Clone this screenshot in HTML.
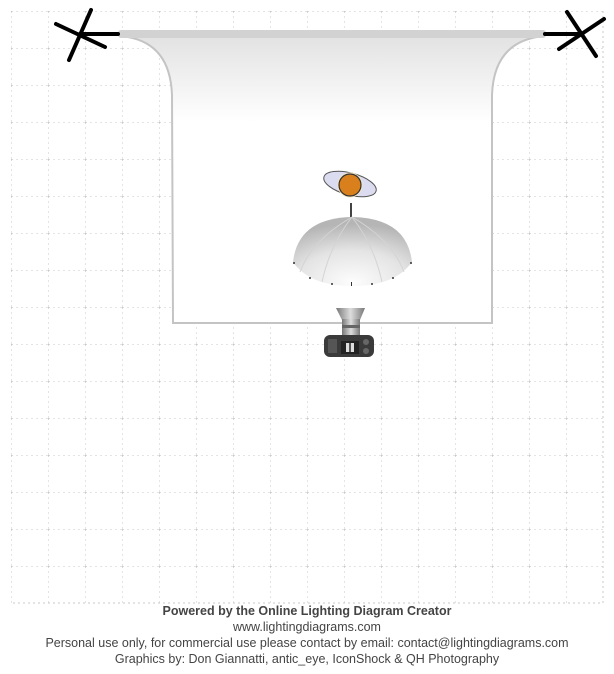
<!DOCTYPE html>
<html><head><meta charset="utf-8"><style>
html,body{margin:0;padding:0;background:#fff;}
body{width:614px;height:674px;overflow:hidden;position:relative;font-family:"Liberation Sans",Arial,sans-serif;}
.t{position:absolute;left:0;width:614px;text-align:center;font-size:12.5px;color:#444;line-height:16px;}
</style></head><body>
<svg width="614" height="674" style="position:absolute;left:0;top:0">
<defs>
<pattern id="g" x="11" y="11" width="37" height="37" patternUnits="userSpaceOnUse">
<path d="M0 0H37M0 0V37" stroke="#c8c8c8" stroke-width="1" stroke-dasharray="2,3" fill="none"/>
<path d="M-2 0H2M0 -2V2" stroke="#b5b5b5" stroke-width="1"/>
</pattern>
<linearGradient id="bd" x1="0" y1="0" x2="0" y2="1">
<stop offset="0" stop-color="#e2e2e2"/><stop offset="0.3" stop-color="#ffffff"/><stop offset="1" stop-color="#fff"/>
</linearGradient>
<radialGradient id="um" cx="0.5" cy="0.95" r="0.85">
<stop offset="0" stop-color="#fdfdfd"/><stop offset="0.55" stop-color="#e4e4e4"/><stop offset="1" stop-color="#b5b5b5"/>
</radialGradient>
<linearGradient id="ln" x1="0" x2="1"><stop offset="0" stop-color="#777"/><stop offset="0.5" stop-color="#ddd"/><stop offset="1" stop-color="#777"/></linearGradient>
</defs>
<rect x="11" y="11" width="592" height="592" fill="url(#g)"/>
<path d="M603 11V603H11" stroke="#c8c8c8" stroke-dasharray="2,3" fill="none"/>
<path d="M120 36 Q170 40 172 95 L173 323 L492 323 L492 95 Q494 40 545 36 Z" fill="url(#bd)" stroke="#c4c4c4" stroke-width="2"/>
<rect x="118" y="30" width="428" height="8" rx="3" fill="#d2d2d2"/>
<g stroke="#000" stroke-width="4" stroke-linecap="round">
<line x1="56" y1="24" x2="105" y2="47"/><line x1="91" y1="10" x2="69" y2="60"/><line x1="80" y1="34" x2="118" y2="34"/>
<line x1="567" y1="12" x2="596" y2="56"/><line x1="559" y1="49" x2="604" y2="19"/><line x1="545" y1="34" x2="582" y2="34"/>
</g>
<ellipse cx="350" cy="184" rx="27" ry="11" transform="rotate(15 350 184)" fill="#dcdcf0" stroke="#555" stroke-width="1"/>
<circle cx="350" cy="185" r="12.5" fill="#f4e6c0"/>
<circle cx="350" cy="185" r="11" fill="#d9801c" stroke="#333" stroke-width="1.2"/>
<line x1="351" y1="203" x2="351" y2="222" stroke="#444" stroke-width="2"/>
<path d="M293 262 Q298 218 352 217 Q407 218 412 262 Q395 286 352 286 Q310 286 293 262 Z" fill="url(#um)"/>
<g stroke="#d4d4d4" stroke-width="1" fill="none"><path d="M352 217 Q330 245 322 282"/><path d="M352 217 Q374 245 382 282"/><path d="M352 217 Q312 240 300 272"/><path d="M352 217 Q392 240 404 272"/></g>
<g fill="#333"><circle cx="294" cy="263" r="1"/><circle cx="411" cy="263" r="1"/><circle cx="310" cy="278" r="1"/><circle cx="393" cy="278" r="1"/><circle cx="332" cy="284" r="1"/><circle cx="372" cy="284" r="1"/><rect x="351" y="282" width="1" height="4"/></g>
<path d="M336 308 L365 308 L360 320 L342 320 Z" fill="url(#ln)"/>
<rect x="342" y="319" width="18" height="17" fill="url(#ln)"/>
<rect x="342" y="325" width="18" height="3" fill="#666"/>
<rect x="324" y="335" width="50" height="22" rx="6" fill="#3a3a3a"/>
<rect x="328" y="339" width="9" height="14" fill="#555"/>
<rect x="341" y="341" width="18" height="13" fill="#222"/>
<rect x="346" y="343" width="8" height="9" fill="#ddd"/><rect x="349" y="343" width="2" height="9" fill="#555"/>
<circle cx="366" cy="342" r="3" fill="#666"/><circle cx="366" cy="351" r="3" fill="#666"/>
</svg>
<div class="t" style="top:603px;font-weight:bold;">Powered by the Online Lighting Diagram Creator</div>
<div class="t" style="top:619px;">www.lightingdiagrams.com</div>
<div class="t" style="top:635px;">Personal use only, for commercial use please contact by email: contact@lightingdiagrams.com</div>
<div class="t" style="top:651px;">Graphics by: Don Giannatti, antic_eye, IconShock &amp; QH Photography</div>
</body></html>
